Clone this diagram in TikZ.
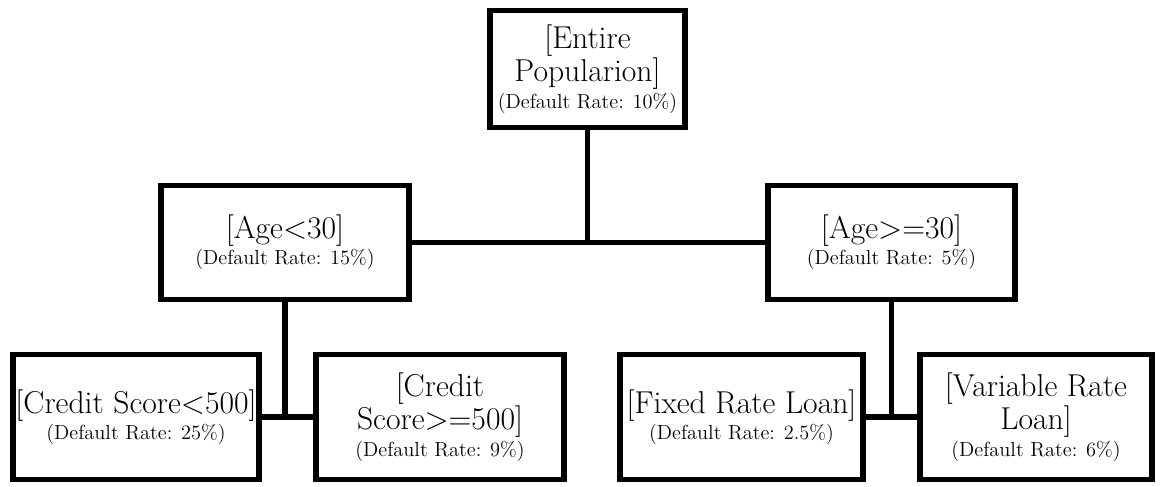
\documentclass[tikz,border=0pt]{standalone}
\newcommand{\raterm}[1]{{\fontsize{11.6}{12}\selectfont (Default Rate: #1)}}
\begin{document}
\begin{tikzpicture}[tree box/.style={draw,line width=3pt,align=center,inner sep=1pt,
                       font=\fontsize{18}{16}\selectfont},
                    link/.style={line width=3pt}
                   ]
  \useasboundingbox (0,0) rectangle (23.28,9.72);
  % levels of the tree
  \node[tree box,minimum width=3.9cm,minimum height=2.34cm] (root) at (11.75,8.34)
       {[Entire\\Popularion]\\[-1pt]\raterm{10\%}};
  \node[tree box,minimum width=4.96cm,minimum height=2.28cm] (young) at (5.70,4.87)
       {[Age<30]\\[-1pt]\raterm{15\%}};
  \node[tree box,minimum width=4.94cm,minimum height=2.28cm] (old) at (17.83,4.87)
       {[Age>=30]\\[-1pt]\raterm{5\%}};
  \node[tree box,minimum width=4.92cm,minimum height=2.5cm] (lowcs) at (2.72,1.38)
       {[Credit Score<500]\\[-1pt]\raterm{25\%}};
  \node[tree box,minimum width=4.96cm,minimum height=2.5cm] (highcs) at (8.80,1.38)
       {[Credit\\Score>=500]\\[-1pt]\raterm{9\%}};
  \node[tree box,minimum width=4.86cm,minimum height=2.5cm] (fixed) at (14.83,1.38)
       {[Fixed Rate Loan]\\[-1pt]\raterm{2.5\%}};
  \node[tree box,minimum width=4.64cm,minimum height=2.5cm] (variable) at (20.72,1.38)
       {[Variable Rate\\Loan]\\[-1pt]\raterm{6\%}};

  % branches
  \draw[link] (young.east) -- (old.west);
  \draw[link] (root.south) -- (root.south |- young.east);
  \draw[link] (lowcs.east) -- (highcs.west);
  \draw[link] (young.south) -- (young.south |- lowcs.east);
  \draw[link] (fixed.east) -- (variable.west);
  \draw[link] (old.south) -- (old.south |- fixed.east);
\end{tikzpicture}
\end{document}
